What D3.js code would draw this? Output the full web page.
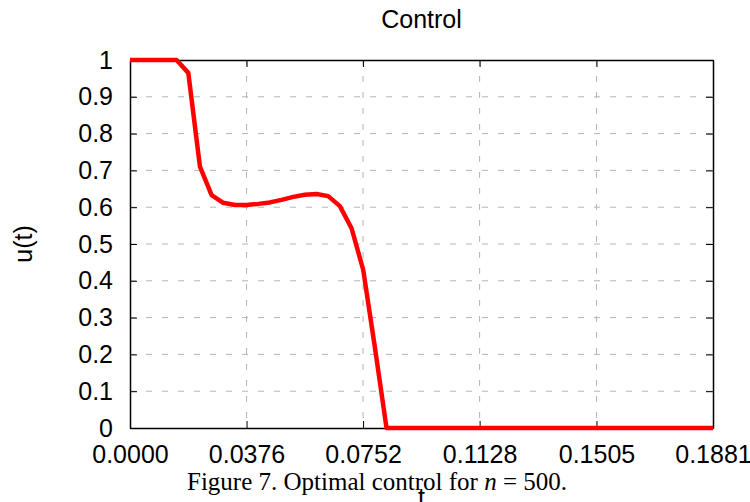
<!DOCTYPE html>
<html>
<head>
<meta charset="utf-8">
<script src="https://cdn.jsdelivr.net/npm/d3@7"></script>
<style>
  body { margin: 0; background: #fff; }
  text { font-family: "Liberation Sans", Arial, sans-serif; fill: #000; }
</style>
</head>
<body>
<div id="chart"></div>
<script>
// values, one sample every 0.003762
const stepT = 0.1881 / 50;
const uValues = [1, 1, 1, 1, 1, 0.965, 0.71, 0.633, 0.612, 0.606, 0.606, 0.609, 0.613,
    0.62, 0.628, 0.634, 0.636, 0.63, 0.603, 0.543, 0.43, 0.22, 0,
    0, 0, 0, 0, 0, 0, 0, 0, 0, 0, 0, 0, 0, 0, 0, 0, 0, 0, 0, 0, 0, 0, 0, 0, 0, 0, 0, 0];
const xTicks = [0, 0.0376, 0.0752, 0.1128, 0.1505, 0.1881];
const xTickLabels = ["0.0000", "0.0376", "0.0752", "0.1128", "0.1505", "0.1881"];
const yTicks = [0, 0.1, 0.2, 0.3, 0.4, 0.5, 0.6, 0.7, 0.8, 0.9, 1];

const W = 750, H = 502;
const margin = { top: 60, right: 37, bottom: 74, left: 130 };
const width = W - margin.left - margin.right;
const height = H - margin.top - margin.bottom;

const svg = d3.select("#chart")
    .append("svg")
        .attr("width", W)
        .attr("height", H);

const g = svg.append("g")
    .attr("transform", `translate(${margin.left},${margin.top})`);

const x = d3.scaleLinear().domain([0, 0.1881]).range([0, width]);
const y = d3.scaleLinear().domain([0, 1]).range([height, 0]);

// grid
g.selectAll(".vgrid")
    .data(xTicks.slice(1, -1))
    .enter()
    .append("line")
        .attr("x1", d => x(d)).attr("x2", d => x(d))
        .attr("y1", 0).attr("y2", height)
        .attr("stroke", "#b4b4b4")
        .attr("stroke-dasharray", "6,10");

g.selectAll(".hgrid")
    .data(yTicks.slice(1, -1))
    .enter()
    .append("line")
        .attr("x1", 0).attr("x2", width)
        .attr("y1", d => y(d)).attr("y2", d => y(d))
        .attr("stroke", "#b4b4b4")
        .attr("stroke-dasharray", "6,10");

// axes, ticks pointing inwards
const tickFmt = (d, i) => xTickLabels[i];
g.append("g")
    .attr("transform", `translate(0,${height})`)
    .call(d3.axisBottom(x).tickValues(xTicks).tickFormat(tickFmt).tickSizeInner(-7).tickSizeOuter(0).tickPadding(17));
g.append("g")
    .call(d3.axisTop(x).tickValues(xTicks).tickFormat("").tickSizeInner(-7).tickSizeOuter(0));
g.append("g")
    .call(d3.axisLeft(y).tickValues(yTicks).tickFormat(d3.format("~g")).tickSizeInner(-7).tickSizeOuter(0).tickPadding(17));
g.append("g")
    .attr("transform", `translate(${width},0)`)
    .call(d3.axisRight(y).tickValues(yTicks).tickFormat("").tickSizeInner(-7).tickSizeOuter(0));

g.selectAll(".domain").attr("stroke", "#000").attr("stroke-width", 1.5);
g.selectAll(".tick line").attr("stroke", "#000").attr("stroke-width", 1);
g.selectAll(".tick text")
    .style("font-family", "'Liberation Sans', Arial, sans-serif")
    .style("font-size", "25px")
    .attr("fill", "#000");

// the curve
const line = d3.line()
    .x((d, i) => x(i * stepT))
    .y(d => y(d));

g.append("path")
    .datum(uValues)
    .attr("fill", "none")
    .attr("stroke", "#ff0000")
    .attr("stroke-width", 4.5)
    .attr("stroke-linejoin", "round")
    .attr("d", line);

// title and labels
svg.append("text")
    .attr("x", margin.left + width / 2)
    .attr("y", 28)
    .attr("text-anchor", "middle")
    .style("font-size", "25px")
    .text("Control");

svg.append("text")
    .attr("transform", `translate(32,${margin.top + height / 2}) rotate(-90)`)
    .attr("text-anchor", "middle")
    .style("font-size", "25px")
    .text("u(t)");

// caption
const cap = svg.append("text")
    .attr("x", 377)
    .attr("y", 490)
    .attr("text-anchor", "middle")
    .style("font-family", "'Liberation Serif', 'Times New Roman', serif")
    .style("font-size", "25px");
cap.append("tspan").text("Figure 7. Optimal control for ");
cap.append("tspan").style("font-style", "italic").text("n");
cap.append("tspan").text(" = 500.");

svg.append("text")
    .attr("x", margin.left + width / 2)
    .attr("y", 506)
    .attr("text-anchor", "middle")
    .style("font-size", "25px")
    .text("t");
</script>
</body>
</html>
